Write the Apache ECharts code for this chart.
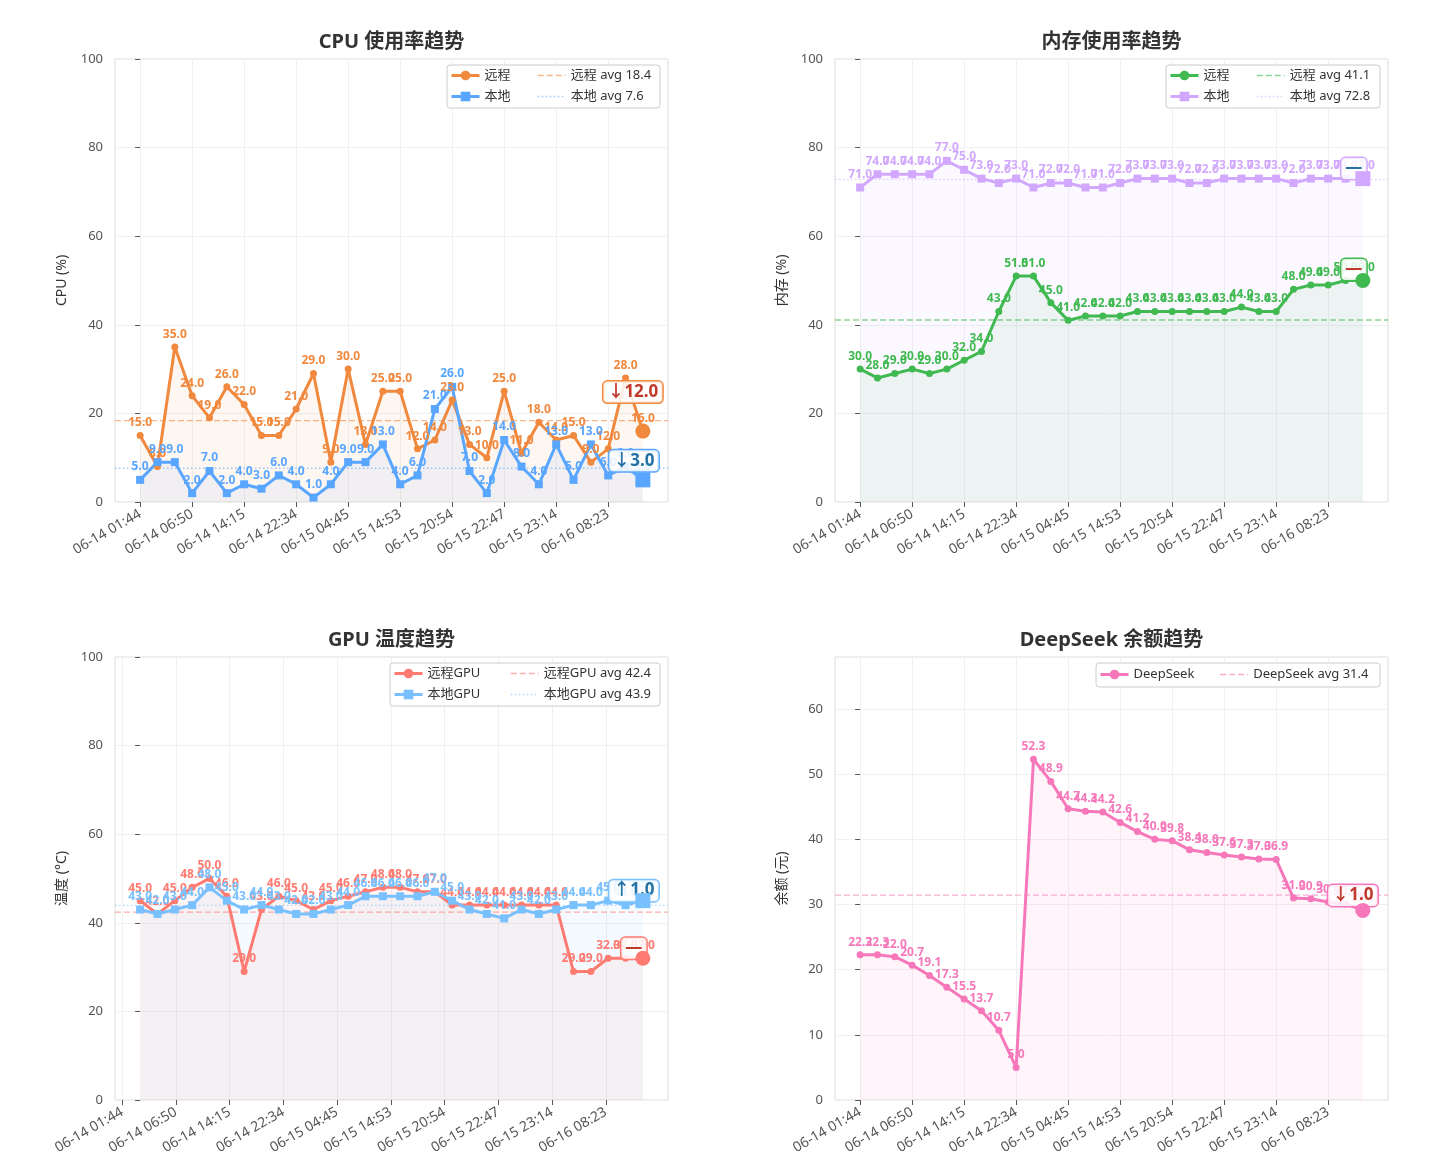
<!DOCTYPE html>
<html lang="zh">
<head>
<meta charset="UTF-8">
<title>监控趋势</title>
<script src="https://cdn.jsdelivr.net/npm/echarts@6/dist/echarts.min.js"></script>
<style>
  html, body { margin: 0; padding: 0; background: #fff; }
  #main { width: 1430px; height: 1170px; }
</style>
</head>
<body>
<div id="main"></div>
<script>
// x 轴时间标签（每 3 个点一个）
var timeLabels = ['06-14 01:44', '06-14 06:50', '06-14 14:15', '06-14 22:34', '06-15 04:45',
                  '06-15 14:53', '06-15 20:54', '06-15 22:47', '06-15 23:14', '06-16 08:23'];
var labelIndex = [0, 3, 6, 9, 12, 15, 18, 21, 24, 27];

var cpuRemote = [15, 8, 35, 24, 19, 26, 22, 15, 15, 21, 29, 9, 30, 13, 25, 25, 12, 14, 23, 13, 10, 25, 11, 18, 14, 15, 9, 12, 28, 16];
var cpuLocal  = [5, 9, 9, 2, 7, 2, 4, 3, 6, 4, 1, 4, 9, 9, 13, 4, 6, 21, 26, 7, 2, 14, 8, 4, 13, 5, 13, 6, 8, 5];
var memRemote = [30, 28, 29, 30, 29, 30, 32, 34, 43, 51, 51, 45, 41, 42, 42, 42, 43, 43, 43, 43, 43, 43, 44, 43, 43, 48, 49, 49, 50, 50];
var memLocal  = [71, 74, 74, 74, 74, 77, 75, 73, 72, 73, 71, 72, 72, 71, 71, 72, 73, 73, 73, 72, 72, 73, 73, 73, 73, 72, 73, 73, 73, 73];
var gpuRemote = [45, 42, 45, 48, 50, 46, 29, 43, 46, 45, 43, 45, 46, 47, 48, 48, 47, 47, 44, 44, 44, 44, 44, 44, 44, 29, 29, 32, 32, 32];
var gpuLocal  = [43, 42, 43, 44, 48, 45, 43, 44, 43, 42, 42, 43, 44, 46, 46, 46, 46, 47, 45, 43, 42, 41, 43, 42, 43, 44, 44, 45, 44, 45];
var deepseek  = [22.3, 22.3, 22.0, 20.7, 19.1, 17.3, 15.5, 13.7, 10.7, 5.0, 52.3, 48.9, 44.7, 44.3, 44.2, 42.6, 41.2, 40.0, 39.8, 38.4,
                 38.0, 37.6, 37.3, 37.0, 36.9, 31.0, 30.9, 30.4, 30.1, 29.1];

var FONT = "'Noto Sans', 'Noto Sans CJK SC', sans-serif";
var N = cpuRemote.length;
var xMin = -1.45, xMax = N - 1 + 1.45;
// GPU 图的刻度位置与其它图不同
var gpuTicks = labelIndex.map(function (d, k) { return -1.04 + 3.1 * k; });
var ZW = '\u200b'; // 同名系列在不同图里需要区分, 加个零宽字符

function mean(a) {
    var s = 0;
    a.forEach(function (v) { s += v; });
    return s / a.length;
}
function deltaText(a) {
    var d = a[a.length - 1] - a[a.length - 2];
    if (Math.abs(d) < 1e-9) return '—';
    return (d > 0 ? '↑' : '↓') + Math.abs(d).toFixed(1);
}

var panels = [
    { left: 115, top: 59, title: 'CPU 使用率趋势', yName: 'CPU (%)', yMax: 100, yStep: 20, ticks: labelIndex,
      box: [447, 65, 213, 43], col2: 90,
      lines: [
          { name: '远程', data: cpuRemote, color: '#F0883E', symbol: 'circle', remote: true, off: [-10, -39] },
          { name: '本地', data: cpuLocal, color: '#58A6FF', symbol: 'rect', remote: false, off: [-9, -19] }
      ] },
    { left: 835, top: 59, title: '内存使用率趋势', yName: '内存 (%)', yMax: 100, yStep: 20, ticks: labelIndex,
      box: [1166, 65, 214, 43], col2: 90,
      lines: [
          { name: '远程' + ZW, data: memRemote, color: '#3FB950', symbol: 'circle', remote: true, off: [-9, -11] },
          { name: '本地' + ZW, data: memLocal, color: '#D2A8FF', symbol: 'rect', remote: false, off: [-9, -10] }
      ] },
    { left: 115, top: 657, title: 'GPU 温度趋势', yName: '温度 (°C)', yMax: 100, yStep: 20, ticks: gpuTicks,
      box: [390, 663, 270, 43], col2: 120,
      lines: [
          { name: '远程GPU', data: gpuRemote, color: '#FF7B72', symbol: 'circle', remote: true, off: [-9, -10] },
          { name: '本地GPU', data: gpuLocal, color: '#79C0FF', symbol: 'rect', remote: false, off: [-9, -10] }
      ] },
    { left: 835, top: 657, title: 'DeepSeek 余额趋势', yName: '余额 (元)', yMax: Math.max.apply(null, deepseek) * 1.3, yStep: 10,
      yTicks: [0, 10, 20, 30, 40, 50, 60], ticks: labelIndex,
      box: [1096, 663, 284, 24], single: true,
      lines: [
          { name: 'DeepSeek', data: deepseek, color: '#F778BA', symbol: 'circle', remote: true, off: [-10, -15] }
      ] }
];

var option = {
    animation: false,
    backgroundColor: '#fff',
    textStyle: { fontFamily: FONT },
    title: [], grid: [], xAxis: [], yAxis: [], legend: [], series: [],
    graphic: { elements: [] }
};

panels.forEach(function (p, gi) {
    var gw = 553, gh = 443;
    option.grid.push({ left: p.left, top: p.top, width: gw, height: gh, show: true,
        borderColor: '#dddddd', borderWidth: 1, backgroundColor: '#fff', outerBoundsMode: 'none' });
    option.title.push({ text: p.title, left: p.left + gw / 2, top: p.top - 27, textAlign: 'center', padding: 0,
        textStyle: { fontSize: 20, fontWeight: 'bold', color: '#333', fontFamily: FONT } });

    var ticks = p.ticks;
    option.xAxis.push({
        type: 'value', gridIndex: gi, min: xMin, max: xMax,
        axisLine: { show: false },
        axisTick: { show: true, length: 5, customValues: ticks, lineStyle: { color: '#555' } },
        axisLabel: {
            customValues: ticks, rotate: 30, fontSize: 14, color: '#555', margin: 11,
            formatter: function (v) {
                for (var k = 0; k < ticks.length; k++) {
                    if (Math.abs(ticks[k] - v) < 1e-6) return timeLabels[k];
                }
                return '';
            }
        },
        splitLine: { show: true, lineStyle: { color: '#f0f0f0' } }
    });
    var yAxis = {
        type: 'value', gridIndex: gi, min: 0, max: p.yMax, interval: p.yStep,
        name: p.yName, nameLocation: 'middle', nameGap: 46,
        nameTextStyle: { fontSize: 14, color: '#333' },
        axisLine: { show: false },
        axisTick: { show: true, length: 5, lineStyle: { color: '#555' } },
        axisLabel: { fontSize: 13, color: '#555', margin: 12 },
        splitLine: { show: true, lineStyle: { color: '#f0f0f0' } }
    };
    if (p.yTicks) {
        yAxis.axisTick.customValues = p.yTicks;
        yAxis.axisLabel.customValues = p.yTicks;
    }
    option.yAxis.push(yAxis);

    // 平均线（放在前面，画在下层）
    var mainNames = [], avgNames = [];
    p.lines.forEach(function (s) {
        var a = mean(s.data);
        var avgName = s.name.replace(ZW, '') + ' avg ' + a.toFixed(1);
        var ls = { color: s.color, width: 1.4, opacity: 0.6, type: s.remote ? [6, 3] : [1.5, 2.5] };
        option.series.push({
            name: avgName, type: 'line', xAxisIndex: gi, yAxisIndex: gi,
            data: [[xMin, a], [xMax, a]], symbol: 'none', silent: true,
            color: s.color, lineStyle: ls, emphasis: { disabled: true }
        });
        mainNames.push({ name: s.name, lineStyle: { width: 3 } });
        avgNames.push({ name: avgName, itemStyle: { opacity: 0 }, lineStyle: { width: 1.5 } });
    });

    p.lines.forEach(function (s) {
        var last = s.data[s.data.length - 1];
        option.series.push({
            name: s.name, type: 'line', xAxisIndex: gi, yAxisIndex: gi,
            data: s.data.map(function (v, i) { return [i, v]; }),
            symbol: s.symbol, symbolSize: s.symbol === 'circle' ? 7 : 8, showAllSymbol: true,
            color: s.color,
            lineStyle: { width: 3, color: s.color },
            itemStyle: { color: s.color },
            areaStyle: { color: s.color, opacity: 0.08 },
            label: { show: true, position: 'top', distance: 3, color: s.color, fontSize: 12, fontWeight: 'bold',
                formatter: function (q) { return q.value[1].toFixed(1); } },
            emphasis: { disabled: true },
            markPoint: {
                silent: true, symbol: 'circle', symbolSize: 1,
                itemStyle: { color: 'rgba(0,0,0,0)' },
                label: {
                    show: true, position: 'inside', offset: s.off,
                    formatter: deltaText(s.data),
                    color: s.remote ? '#C0392B' : '#2471A3', fontSize: 17, fontWeight: 'bold',
                    backgroundColor: 'rgba(255,255,255,0.85)', borderColor: s.color, borderWidth: 1.5,
                    borderRadius: 4, padding: [3, 4, 1, 4]
                },
                data: [{ coord: [s.data.length - 1, last] }]
            }
        });
        // 最后一个点放大显示
        option.series.push({
            type: 'scatter', xAxisIndex: gi, yAxisIndex: gi, z: 6, silent: true,
            data: [[s.data.length - 1, last]], symbol: s.symbol, symbolSize: 15,
            itemStyle: { color: s.color, opacity: 1 }
        });
    });

    // 图例框
    var b = p.box;
    option.graphic.elements.push({
        type: 'rect', z: 3, silent: true,
        shape: { x: b[0], y: b[1], width: b[2], height: b[3], r: 3 },
        style: { fill: 'rgba(255,255,255,0.85)', stroke: '#cccccc', lineWidth: 1 }
    });
    var legendBase = { itemWidth: 28, itemHeight: 12, itemGap: 8, padding: 0, selectedMode: false,
        textStyle: { fontSize: 13, color: '#333' } };
    if (p.single) {
        option.legend.push(Object.assign({}, legendBase, {
            orient: 'horizontal', left: b[0] + 3, top: b[1] + 5, itemGap: 25,
            data: [mainNames[0], avgNames[0]]
        }));
    } else {
        option.legend.push(Object.assign({}, legendBase, {
            orient: 'vertical', left: b[0] + 3, top: b[1] + 4, data: mainNames
        }));
        option.legend.push(Object.assign({}, legendBase, {
            orient: 'vertical', left: b[0] + p.col2, top: b[1] + 4, data: avgNames
        }));
    }
});

var myChart = echarts.init(document.getElementById('main'));
myChart.setOption(option);
</script>
</body>
</html>
